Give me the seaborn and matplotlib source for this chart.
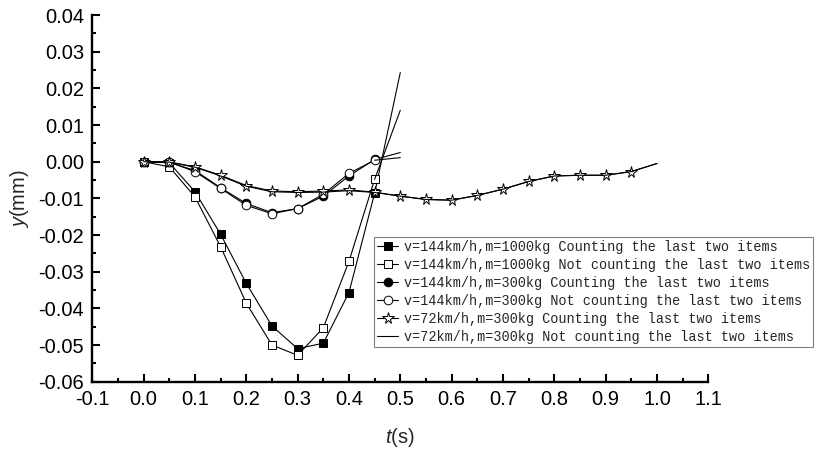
import matplotlib
matplotlib.use("Agg")
import matplotlib.pyplot as plt
from matplotlib.ticker import MultipleLocator, FormatStrFormatter
import seaborn as sns

# time points (s)
t_144 = [0.0, 0.05, 0.1, 0.15, 0.2, 0.25, 0.3, 0.35, 0.4, 0.45, 0.5]
t_72 = [0.0, 0.05, 0.1, 0.15, 0.2, 0.25, 0.3, 0.35, 0.4, 0.45, 0.5,
        0.55, 0.6, 0.65, 0.7, 0.75, 0.8, 0.85, 0.9, 0.95, 1.0]

# displacement y (mm); last 144 km/h value is the curve end without marker
y_1000_count = [0.0, -0.0003, -0.0082, -0.0198, -0.0332, -0.0448, -0.0510,
                -0.0495, -0.0357, -0.0086, 0.0243]
y_1000_nocount = [0.0, -0.0014, -0.0096, -0.0232, -0.0386, -0.0500, -0.0528,
                  -0.0453, -0.0272, -0.0048, 0.0140]
y_300_count = [0.0, -0.0002, -0.0024, -0.0071, -0.0114, -0.0139, -0.0128,
               -0.0094, -0.0039, 0.0006, 0.0025]
y_300_nocount = [0.0, -0.0001, -0.0027, -0.0073, -0.0119, -0.0142, -0.0128,
                 -0.0089, -0.0032, 0.0004, 0.0011]
y_72_count = [0.0, -0.0001, -0.0014, -0.0037, -0.0065, -0.0080, -0.0082,
              -0.0080, -0.0077, -0.0083, -0.0094, -0.0103, -0.0105, -0.0092,
              -0.0075, -0.0054, -0.0039, -0.0037, -0.0037, -0.0027, -0.0005]
y_72_nocount = [0.0, -0.0001, -0.0015, -0.0039, -0.0067, -0.0082, -0.0084,
                -0.0083, -0.0079, -0.0084, -0.0094, -0.0103, -0.0105, -0.0092,
                -0.0075, -0.0054, -0.0039, -0.0037, -0.0037, -0.0027, -0.0005]

labels = [
    "v=144km/h,m=1000kg Counting the last two items",
    "v=144km/h,m=1000kg Not counting the last two items",
    "v=144km/h,m=300kg Counting the last two items",
    "v=144km/h,m=300kg Not counting the last two items",
    "v=72km/h,m=300kg Counting the last two items",
    "v=72km/h,m=300kg Not counting the last two items",
]

sns.set_style("ticks")
plt.rcParams["font.family"] = ["Liberation Sans", "DejaVu Sans"]
plt.rcParams["mathtext.fontset"] = "custom"
plt.rcParams["mathtext.it"] = "Liberation Sans:italic"
plt.rcParams["mathtext.rm"] = "Liberation Sans"

fig = plt.figure(figsize=(8.19, 4.51), dpi=100)
ax = fig.add_axes([0.1127, 0.1537, 0.7521, 0.8130])

lw = 0.8
series = [
    (t_144, y_1000_count, "s", "black", 5.5, 9),
    (t_144, y_1000_nocount, "s", "white", 5.5, 9),
    (t_144, y_300_count, "o", "black", 6.2, 9),
    (t_144, y_300_nocount, "o", "white", 6.2, 9),
    (t_72, y_72_count, "*", "white", 8.5, 19),
]

for (tx, yy, mk, fc, ms, last), lab in zip(series, labels[:5]):
    sns.lineplot(x=tx[:last + 1], y=yy[:last + 1], ax=ax, color="black",
                 lw=lw, marker=mk, markersize=ms, markerfacecolor=fc,
                 markeredgecolor="black", markeredgewidth=0.7, label=lab,
                 sort=False)
    # curve continues past the last marker
    sns.lineplot(x=tx[last:], y=yy[last:], ax=ax, color="black", lw=lw,
                 sort=False)

sns.lineplot(x=t_72, y=y_72_nocount, ax=ax, color="black", lw=lw,
             label=labels[5], sort=False)

ax.set_xlim(-0.1, 1.1)
ax.set_ylim(-0.06, 0.04)
ax.xaxis.set_major_locator(MultipleLocator(0.1))
ax.xaxis.set_minor_locator(MultipleLocator(0.05))
ax.yaxis.set_major_locator(MultipleLocator(0.01))
ax.yaxis.set_minor_locator(MultipleLocator(0.005))
ax.xaxis.set_major_formatter(FormatStrFormatter("%.1f"))
ax.yaxis.set_major_formatter(FormatStrFormatter("%.2f"))

sns.despine(ax=ax)
for s in ["left", "bottom"]:
    ax.spines[s].set_linewidth(1.7)
    ax.spines[s].set_color("black")
ax.tick_params(which="major", direction="in", length=5.8, width=1.5,
               labelsize=14.5, pad=6, colors="black")
ax.tick_params(which="minor", direction="in", length=3, width=1.5,
               colors="black")

ax.set_xlabel("$\\it{t}$(s)", fontsize=14.5, labelpad=12)
ax.set_ylabel("$\\it{y}$(mm)", fontsize=14.5, labelpad=5)

leg = ax.legend(loc="upper left", bbox_to_anchor=(374 / 819, 1 - 237 / 451),
                bbox_transform=fig.transFigure, frameon=True, fancybox=False,
                framealpha=1, edgecolor="gray", handlelength=1.6,
                handletextpad=0.4, borderpad=0.2, labelspacing=0.3,
                borderaxespad=0, prop={"family": "Liberation Mono", "size": 9.75})
leg.get_frame().set_linewidth(0.8)

fig.savefig("out.png", dpi=100)
